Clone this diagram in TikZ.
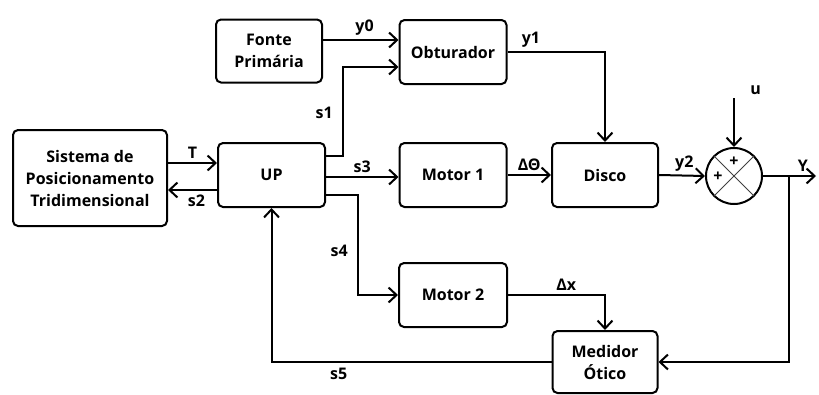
\documentclass[tikz,border=0pt]{standalone}
\usepackage{fontspec}
\setmainfont{Open Sans}
\usetikzlibrary{arrows.meta}

\begin{document}
\begin{tikzpicture}[
    x=1pt, y=-1pt,
    block/.style={rectangle, draw=black, rounded corners=5pt, line width=2pt, align=center, font=\fontsize{16}{22}\selectfont\bfseries, inner sep=2pt},
    arr/.style={-{Straight Barb[length=8pt,width=15pt,line width=2pt]}, line width=2pt},
    lbl/.style={font=\fontsize{16}{18}\selectfont\bfseries}
]
\useasboundingbox (0,0) rectangle (819,394);

% Blocks
\node[block, minimum width=154pt, minimum height=96pt] (sis) at (90,178) {Sistema de\\Posicionamento\\Tridimensional};
\node[block, minimum width=106pt, minimum height=63pt] (fonte) at (269,51) {Fonte\\Primária};
\node[block, minimum width=107pt, minimum height=64pt] (obt) at (453,52) {Obturador};
\node[block, minimum width=107pt, minimum height=64pt] (up) at (271.5,175) {UP};
\node[block, minimum width=107pt, minimum height=64pt] (mot1) at (453,175) {Motor 1};
\node[block, minimum width=106pt, minimum height=64pt] (disco) at (605,175) {Disco};
\node[block, minimum width=108pt, minimum height=64pt] (mot2) at (453,295) {Motor 2};
\node[block, minimum width=105pt, minimum height=62pt] (med) at (605,362) {Medidor\\Ótico};

% Summing junction
\node[circle, draw=black, line width=2pt, minimum size=56pt, inner sep=0pt] (sum) at (734,176) {};
\draw[line width=1pt, black!75] (sum.north west) -- (sum.south east);
\draw[line width=1pt, black!75] (sum.north east) -- (sum.south west);
\node[lbl] (plustop) at (734,162) {+};
\node[lbl] (plusleft) at (718,177) {+};

% Free ends
\coordinate (uin) at (734,98);
\coordinate (yout) at (816,176);
\coordinate (branch) at (789,176);

% Signals
\draw[arr] ([yshift=15pt]sis.east) -- node[lbl, above=0pt] {T} ([yshift=15pt]sis.east -| up.west);
\draw[arr] ([yshift=-15pt]up.west) -- node[lbl, below=1pt, xshift=4pt] {s2} ([yshift=-15pt]up.west -| sis.east);
\draw[arr] ([yshift=11pt]fonte.east) -- node[lbl, above=0pt, pos=0.55] {y0} ([yshift=11pt]fonte.east -| obt.west);
\draw[arr] ([yshift=19pt]up.east) -| (343,67) node[lbl, pos=0.74, left=6pt] {s1} -- ([yshift=-15pt]obt.west);
\draw[arr] ([yshift=-2pt]up.east) -- node[lbl, above=0pt] {s3} ([yshift=-2pt]up.east -| mot1.west);
\draw[arr] ([yshift=-20pt]up.east) -| ([xshift=-40pt]mot2.west) node[lbl, pos=0.78, left=6pt] {s4} -- (mot2.west);
\draw[arr] (mot1.east) -- node[lbl, above=0pt] {ΔΘ} (disco.west);
\draw[arr] (obt.east) -| node[lbl, pos=0.12, above=0pt] {y1} (disco.north);
\draw[arr] (disco.east) -- node[lbl, above=0pt, pos=0.55] {y2} (sum.west);
\draw[arr] (uin) -- node[lbl, pos=0.0, right=12pt, yshift=8pt] {u} (sum.north);
\draw[arr] (sum.east) -- node[lbl, pos=0.75, above=0pt] {Y} (yout);
\draw[arr] (branch) |- (med.east);
\draw[arr] (mot2.east) -| node[lbl, pos=0.3, above=0pt] {Δx} (med.north);
\draw[arr] (med.west) -| node[lbl, pos=0.38, below=2pt] {s5} (up.south);

\end{tikzpicture}
\end{document}
